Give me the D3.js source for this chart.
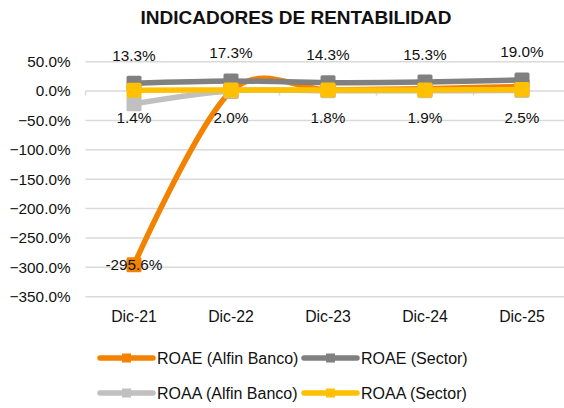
<!DOCTYPE html>
<html>
<head>
<meta charset="utf-8">
<script src="https://cdn.jsdelivr.net/npm/d3@7"></script>
<style>
  body { margin: 0; background: #fff; }
  text { font-family: "Liberation Sans", Arial, sans-serif; fill: #111; }
</style>
</head>
<body>
<div id="chart"></div>
<script>
//Set up data
const categories = ["Dic-21", "Dic-22", "Dic-23", "Dic-24", "Dic-25"];
const roaeAlfin = [-295.6, -0.5, 2.0, 4.0, 8.0];
const roaeSector = [13.3, 17.3, 14.3, 15.3, 19.0];
const roaaAlfin = [-21.5, 0.3, 0.5, 0.6, 0.9];
const roaaSector = [1.4, 2.0, 1.8, 1.9, 2.5];
const yTicks = [50, 0, -50, -100, -150, -200, -250, -300, -350];
const seriesNames = ["ROAE (Alfin Banco)", "ROAE (Sector)", "ROAA (Alfin Banco)", "ROAA (Sector)"];

const W = 564, H = 408;
const plot = { left: 85.5, right: 570.5, top: 61.7, bottom: 296.7 };

const series = [
    { name: seriesNames[0], values: roaeAlfin, color: "#F28200" },
    { name: seriesNames[1], values: roaeSector, color: "#808080" },
    { name: seriesNames[2], values: roaaAlfin, color: "#C0C0C0" },
    { name: seriesNames[3], values: roaaSector, color: "#FFC000" }
];

const svg = d3.select("#chart").append("svg")
    .attr("width", W)
    .attr("height", H);

// scales
const x = d3.scaleBand()
    .domain(categories)
    .range([plot.left, plot.right]);
const y = d3.scaleLinear()
    .domain([-350, 50])
    .range([plot.bottom, plot.top]);
const cx = d => x(d) + x.bandwidth() / 2;

// title
svg.append("text")
    .attr("x", 296)
    .attr("y", 23.5)
    .attr("text-anchor", "middle")
    .style("font-size", "19px")
    .style("font-weight", "bold")
    .text("INDICADORES DE RENTABILIDAD");

// gridlines
svg.append("g")
    .selectAll("line")
    .data(yTicks)
    .enter()
    .append("line")
    .attr("x1", plot.left)
    .attr("x2", plot.right)
    .attr("y1", d => y(d))
    .attr("y2", d => y(d))
    .attr("stroke", "#d9d9d9")
    .attr("stroke-width", 1.5);

// y axis labels
const yAxis = svg.append("g")
    .attr("transform", `translate(${plot.left}, 0)`)
    .call(d3.axisLeft(y).tickValues(yTicks).tickSize(0).tickPadding(15)
        .tickFormat(d => d3.format(".1f")(d) + "%"));
yAxis.select(".domain").remove();
yAxis.selectAll("text")
    .style("font-size", "15.3px")
    .style("font-family", "Liberation Sans, Arial, sans-serif")
    .attr("fill", "#111");

// x axis at zero, tick marks at category boundaries
const xAxis = svg.append("g")
    .attr("transform", `translate(0, ${y(0)})`);
xAxis.selectAll("line")
    .data(d3.range(categories.length + 1))
    .enter()
    .append("line")
    .attr("x1", i => plot.left + i * x.bandwidth())
    .attr("x2", i => plot.left + i * x.bandwidth())
    .attr("y1", 0)
    .attr("y2", 4.5)
    .attr("stroke", "#d9d9d9")
    .attr("stroke-width", 1.5);

// category labels
svg.append("g")
    .selectAll("text")
    .data(categories)
    .enter()
    .append("text")
    .attr("x", d => cx(d))
    .attr("y", 322)
    .attr("text-anchor", "middle")
    .style("font-size", "15.8px")
    .text(d => d);

// lines and markers
const line = d3.line()
    .x((d, i) => cx(categories[i]))
    .y(d => y(d))
    .curve(d3.curveCardinal.tension(0));

series.forEach(s => {
    const g = svg.append("g");
    g.append("path")
        .attr("d", line(s.values))
        .attr("fill", "none")
        .attr("stroke", s.color)
        .attr("stroke-width", 5.5)
        .attr("stroke-linejoin", "round")
        .attr("stroke-linecap", "round");
    g.selectAll("rect")
        .data(s.values)
        .enter()
        .append("rect")
        .attr("x", (d, i) => cx(categories[i]) - 7.5)
        .attr("y", d => y(d) - 7.5)
        .attr("width", 15)
        .attr("height", 15)
        .attr("rx", 1.5)
        .attr("fill", s.color);
});

// data labels
const labels = svg.append("g").style("font-size", "15.3px");
labels.selectAll(".lblTop")
    .data(roaeSector)
    .enter()
    .append("text")
    .attr("x", (d, i) => cx(categories[i]))
    .attr("y", d => y(d) - 22.5)
    .attr("text-anchor", "middle")
    .text(d => d.toFixed(1) + "%");
labels.selectAll(".lblBot")
    .data(roaaSector)
    .enter()
    .append("text")
    .attr("x", (d, i) => cx(categories[i]))
    .attr("y", d => y(d) + 33)
    .attr("text-anchor", "middle")
    .text(d => d.toFixed(1) + "%");
labels.append("text")
    .attr("x", cx(categories[0]))
    .attr("y", y(roaeAlfin[0]) + 5.5)
    .attr("text-anchor", "middle")
    .text(roaeAlfin[0].toFixed(1) + "%");

// legend
const legendPos = [[100, 358], [304, 358], [100, 393], [304, 393]];
const legend = svg.append("g");
series.forEach((s, i) => {
    const [lx, ly] = legendPos[i];
    legend.append("line")
        .attr("x1", lx).attr("x2", lx + 53)
        .attr("y1", ly).attr("y2", ly)
        .attr("stroke", s.color)
        .attr("stroke-width", 5.5)
        .attr("stroke-linecap", "round");
    legend.append("rect")
        .attr("x", lx + 22).attr("y", ly - 4.5)
        .attr("width", 9).attr("height", 9)
        .attr("fill", s.color);
    legend.append("text")
        .attr("x", lx + 57)
        .attr("y", ly + 5.5)
        .style("font-size", "16px")
        .text(s.name);
});
</script>
</body>
</html>
